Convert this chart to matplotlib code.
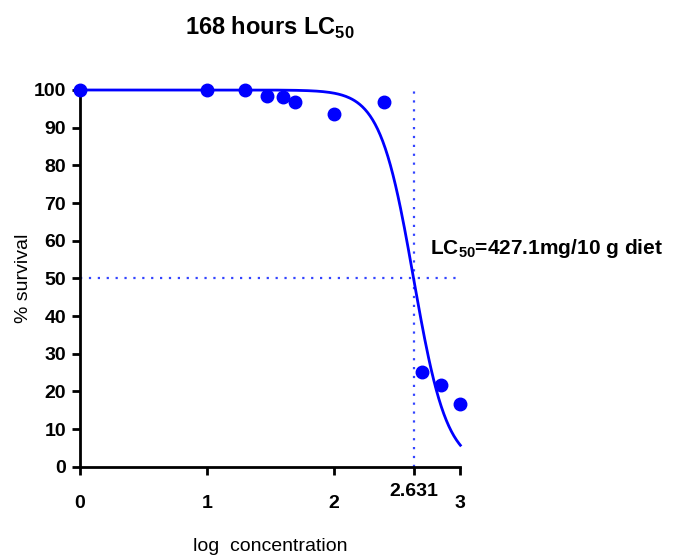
import numpy as np
import matplotlib
matplotlib.use("Agg")
import matplotlib.pyplot as plt

# observed survival at each log concentration
log_conc = [0, 1, 1.301, 1.477, 1.602, 1.699, 2.0, 2.398, 2.699, 2.845, 3.0]
survival = [100, 100, 100, 98.4, 98.2, 96.8, 93.6, 96.8, 25.2, 21.8, 16.7]

# fitted sigmoid (top 100, bottom 0)
log_lc50 = 2.631
hill = 3.3

plt.rcParams['font.family'] = ['Liberation Sans', 'DejaVu Sans']
plt.rcParams['mathtext.fontset'] = 'custom'
plt.rcParams['mathtext.rm'] = 'Liberation Sans:bold'

fig = plt.figure(figsize=(6.78, 5.59), dpi=100)
ax = fig.add_axes([0.118, 0.165, 0.561, 0.674])

xs = np.linspace(0, 3, 300)
ys = 100 / (1 + 10 ** ((xs - log_lc50) * hill))
ax.plot(xs, ys, color='#0000ff', lw=2, clip_on=False, zorder=3)
ax.plot(log_conc, survival, 'o', color='#0000ff', ms=9, clip_on=False, zorder=4)

# LC50 guide lines
ax.plot([0, 3], [50, 50], color='#3344ff', lw=1.6, ls=(0, (1, 3)), clip_on=False)
ax.plot([log_lc50, log_lc50], [0, 100], color='#3344ff', lw=1.6, ls=(0, (1, 3)), clip_on=False)

ax.set_xlim(0, 3)
ax.set_ylim(0, 100)
ax.spines['right'].set_visible(False)
ax.spines['top'].set_visible(False)
ax.spines['left'].set_linewidth(2)
ax.spines['bottom'].set_linewidth(2)

ax.set_yticks(range(0, 101, 10))
ax.set_xticks([0, 1, 2, 3])
ax.set_xticks([log_lc50], minor=True)
ax.set_xticklabels(['0', '1', '2', '3'])
ax.set_xticklabels(['2.631'], minor=True)
ax.tick_params(axis='y', length=6, width=2, pad=4, labelsize=14)
ax.tick_params(axis='x', which='both', length=6, width=2, labelsize=14)
ax.tick_params(axis='x', which='major', pad=14)
ax.tick_params(axis='x', which='minor', pad=6)
for lab in ax.get_xticklabels() + ax.get_yticklabels() + ax.get_xticklabels(minor=True):
    lab.set_fontweight('bold')

ax.set_xlabel('log  concentration', fontsize=14, labelpad=19)
ax.set_ylabel('% survival', fontsize=14, labelpad=1)
ax.set_title('168 hours LC$_{50}$', fontsize=17, fontweight='bold', pad=40)

ax.text(2.76, 58, 'LC$_{50}$=427.1mg/10 g diet', fontsize=15, fontweight='bold',
        ha='left', va='center', clip_on=False)

fig.savefig('out.png', dpi=100)
